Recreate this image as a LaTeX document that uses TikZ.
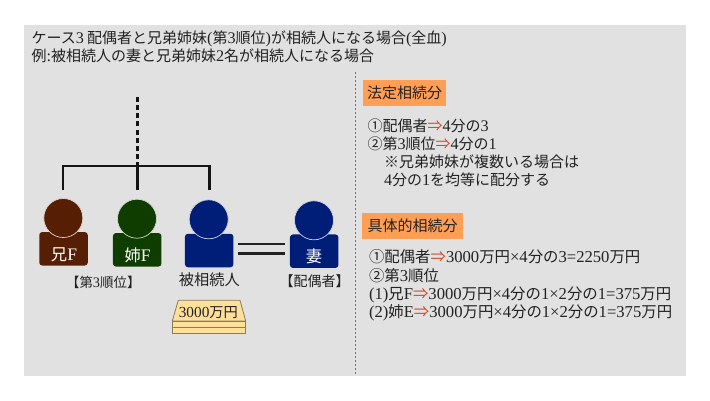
\documentclass[tikz,border=0pt]{standalone}
\usepackage{fontspec}
\setmainfont{Noto Sans CJK JP}
\newfontfamily\latinfam[Scale=1.08]{Liberation Serif}
\newcommand\lt[1]{{\latinfam #1}}
\definecolor{bgc}{HTML}{E1E1E1}
\definecolor{inkc}{HTML}{222222}
\definecolor{brownc}{HTML}{561E02}
\definecolor{greenc}{HTML}{0F3D00}
\definecolor{bluec}{HTML}{001E78}
\definecolor{orangec}{HTML}{FF9E55}
\definecolor{goldc}{HTML}{FFE09A}
\definecolor{goldl}{HTML}{8A7D5A}
\definecolor{arrowc}{HTML}{D0492A}
\definecolor{dotc}{HTML}{B5603A}
\newcommand\ar{\textcolor{arrowc}{⇒}}
\tikzset{
  x=1pt,y=-1pt,
  txt/.style={inner sep=0pt,outer sep=0pt,anchor=west,text=inkc,font=\fontsize{15}{16}\selectfont,text height=13pt,text depth=2pt},
  cost/.style={txt,font=\fontsize{15.4}{16}\selectfont},
  lab/.style={inner sep=0pt,outer sep=0pt,text=inkc,text height=13pt,text depth=2pt},
  head/.style={circle,minimum size=39pt,inner sep=0pt,draw=white!80!#1,line width=0.7pt,fill=#1},
  body/.style={rectangle,rounded corners=3pt,minimum width=48.5pt,minimum height=33.5pt,inner sep=0pt,fill=#1},
  who/.style={text=white,inner sep=0pt,font=\fontsize{16.3}{16}\selectfont},
  tree/.style={line width=2.5pt,draw=inkc!60!black},
  eqline/.style={line width=2.6pt,draw=inkc},
  headbox/.style={rectangle,inner sep=0pt,fill=orangec,text=inkc,font=\fontsize{15}{16}\selectfont},
  gold/.style={fill=goldc,draw=goldl,line width=0.8pt},
}
\begin{document}
\begin{tikzpicture}
\useasboundingbox (0,0) rectangle (710,400);
\fill[bgc] (24,25) rectangle (686,376);
% divider
\coordinate (divtop) at (355.3,72);
\coordinate (divbot) at (355.3,375);
\draw[dotc,line width=1.3pt,dash pattern=on 2pt off 2pt] (divtop) -- (divbot);
% title
\node[txt] (t1) at (31.5,37.5) {ケース\lt{3} 配偶者と兄弟姉妹\lt{(}第\lt{3}順位\lt{)}が相続人になる場合\lt{(}全血\lt{)}};
\node[txt] (t2) at (31.5,56) {例\lt{:}被相続人の妻と兄弟姉妹\lt{2}名が相続人になる場合};
% persons
\node[body=brownc] (b1) at (63.5,248.8) {};
\node[head=brownc] (h1) at (63.3,218) {};
\node[body=greenc] (b2) at (137.2,249.8) {};
\node[head=greenc] (h2) at (137,218.7) {};
\node[body=bluec] (b3) at (209.2,250.5) {};
\node[head=bluec] (h3) at (208.7,219.3) {};
\node[body=bluec] (b4) at (314.2,251.2) {};
\node[head=bluec] (h4) at (314,220.3) {};
\node[who] (n1) at (64,254.3) {兄\lt{F}};
\node[who] (n2) at (137.7,255.7) {姉\lt{F}};
\node[who] (n4) at (314,256) {妻};
% tree
\coordinate (dtop) at (137.3,96.7);
\coordinate (jct) at (137.3,166);
\coordinate (e1) at (63,190);
\coordinate (e2) at (137.3,190);
\coordinate (e3) at (209.3,190);
\draw[tree,dash pattern=on 5pt off 3.2pt] (dtop) -- (jct);
\draw[tree] (e1) -- (63,166) -- (209.3,166) -- (e3);
\draw[tree] (jct) -- (e2);
% marriage
\coordinate (m1a) at (238.3,244);
\coordinate (m1b) at (285,244);
\coordinate (m2a) at (238.3,253.7);
\coordinate (m2b) at (285,253.7);
\draw[eqline] (m1a) -- (m1b);
\draw[eqline] (m2a) -- (m2b);
% labels
\node[lab,font=\fontsize{13.4}{16}\selectfont] (l1) at (103.3,282) {【第\lt{3}順位】};
\node[lab,font=\fontsize{15.2}{16}\selectfont] (l2) at (209.3,280) {被相続人};
\node[lab,font=\fontsize{14}{16}\selectfont] (l3) at (314.7,281) {【配偶者】};
% money
\fill[gold] (172.3,321) -- (178.3,300.3) -- (240,300.3) -- (245.7,321) -- cycle;
\draw[gold] (172.3,321) rectangle (245.7,327.3);
\draw[gold] (172.3,327.3) rectangle (245.7,333.7);
\node[lab,font=\fontsize{14.2}{16}\selectfont] (mn) at (208.3,311.5) {\lt{3000}万円};
% right: statutory
\node[headbox,minimum width=83pt,minimum height=25.7pt] (hb1) at (404.5,92.8) {法定相続分};
\node[txt] (a1) at (367.5,125.7) {①配偶者\ar\lt{4}分の\lt{3}};
\node[txt] (a2) at (367.5,143.5) {②第\lt{3}順位\ar\lt{4}分の\lt{1}};
\node[txt] (a3) at (384,161.5) {※兄弟姉妹が複数いる場合は};
\node[txt] (a4) at (384,179.5) {\lt{4}分の\lt{1}を均等に配分する};
% right: concrete
\node[headbox,minimum width=101pt,minimum height=26pt] (hb2) at (412.5,226) {具体的相続分};
\node[cost] (c1) at (369,257.3) {①配偶者\ar\lt{3000}万円\lt{×4}分の\lt{3=2250}万円};
\node[cost] (c2) at (369,276) {②第\lt{3}順位};
\node[cost] (c3) at (369,294) {\lt{(1)}兄\lt{F}\ar\lt{3000}万円\lt{×4}分の\lt{1×2}分の\lt{1=375}万円};
\node[cost] (c4) at (369,312) {\lt{(2)}姉\lt{E}\ar\lt{3000}万円\lt{×4}分の\lt{1×2}分の\lt{1=375}万円};
\end{tikzpicture}
\end{document}
